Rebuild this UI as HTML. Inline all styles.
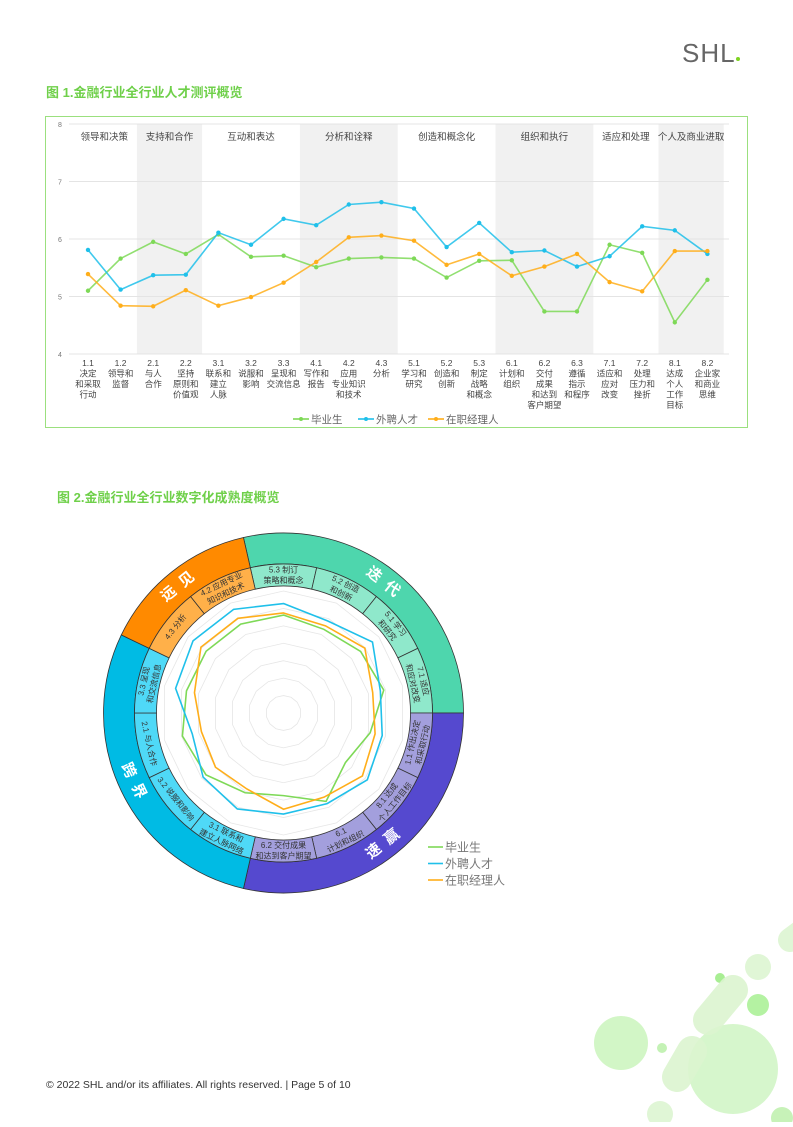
<!DOCTYPE html>
<html><head><meta charset="utf-8">
<style>
html,body{margin:0;padding:0;background:#fff;}
body{width:793px;height:1122px;overflow:hidden;font-family:"Liberation Sans","Noto Sans CJK SC",sans-serif;}
svg text{font-family:"Liberation Sans","Noto Sans CJK SC",sans-serif;}
</style></head>
<body>
<svg id="page" width="793" height="1122" viewBox="0 0 793 1122" xmlns="http://www.w3.org/2000/svg">
  <g>
    <circle cx="621" cy="1043" r="27" fill="#cdf5c0" opacity="0.9"/>
    <circle cx="733" cy="1069" r="45" fill="#d2f5c6" opacity="0.9"/>
    <circle cx="758" cy="1005" r="11" fill="#b4f2a2"/>
    <circle cx="720" cy="978" r="5" fill="#a8ee93"/>
    <circle cx="662" cy="1048" r="5" fill="#c4f2b5"/>
    <circle cx="758" cy="967" r="13" fill="#e0f6d6"/>
    <circle cx="660" cy="1114" r="13" fill="#e0f6d6"/>
    <circle cx="782" cy="1118" r="11" fill="#c7f2b8"/>
    <line x1="708" y1="1020" x2="733" y2="990" stroke="#dcf5d0" stroke-width="30" stroke-linecap="round" opacity="0.9"/>
    <line x1="677" y1="1077" x2="692" y2="1051" stroke="#dcf5d0" stroke-width="30" stroke-linecap="round" opacity="0.9"/>
    <line x1="790" y1="940" x2="810" y2="925" stroke="#e0f6d6" stroke-width="24" stroke-linecap="round"/>
  </g>
  <g>
    <text x="682" y="62" font-size="26" fill="#666" letter-spacing="1">SHL</text>
    <circle cx="738" cy="59" r="2" fill="#7ed321"/>
  </g>
  <text x="46" y="97" font-size="13" font-weight="bold" fill="#6fd04a">图 1.金融行业全行业人才测评概览</text>
  <rect x="45.5" y="116.5" width="702" height="311" fill="none" stroke="#9be07e" stroke-width="1"/>
  <g id="c1"></g>
  <text x="57" y="502" font-size="13" font-weight="bold" fill="#6fd04a">图 2.金融行业全行业数字化成熟度概览</text>
  <g id="c2"></g>
  <text x="46" y="1088" font-size="10.5" fill="#333">© 2022 SHL and/or its affiliates. All rights reserved. | Page 5 of 10</text>
</svg>
<script>
const categories=["1.1","1.2","2.1","2.2","3.1","3.2","3.3","4.1","4.2","4.3","5.1","5.2","5.3","6.1","6.2","6.3","7.1","7.2","8.1","8.2"];
const catNames=[["决定","和采取","行动"],["领导和","监督"],["与人","合作"],["坚持","原则和","价值观"],["联系和","建立","人脉"],["说服和","影响"],["呈现和","交流信息"],["写作和","报告"],["应用","专业知识","和技术"],["分析"],["学习和","研究"],["创造和","创新"],["制定","战略","和概念"],["计划和","组织"],["交付","成果","和达到","客户期望"],["遵循","指示","和程序"],["适应和","应对","改变"],["处理","压力和","挫折"],["达成","个人","工作","目标"],["企业家","和商业","思维"]];
const graduates=[5.10,5.66,5.95,5.74,6.08,5.69,5.71,5.51,5.66,5.68,5.66,5.33,5.62,5.63,4.74,4.74,5.90,5.76,4.55,5.29];
const external=[5.81,5.12,5.37,5.38,6.11,5.90,6.35,6.24,6.60,6.64,6.53,5.86,6.28,5.77,5.80,5.52,5.70,6.22,6.15,5.74];
const managers=[5.39,4.84,4.83,5.11,4.84,4.99,5.24,5.60,6.03,6.06,5.97,5.55,5.74,5.36,5.52,5.74,5.25,5.09,5.79,5.79];
const groupNames=["领导和决策","支持和合作","互动和表达","分析和诠释","创造和概念化","组织和执行","适应和处理","个人及商业进取"];
const groupStart=[0,2,4,7,10,13,16,18];
const groupEnd=[1,3,6,9,12,15,17,19];
const yTicks=[4,5,6,7,8];
const seriesNames=["毕业生","外聘人才","在职经理人"];
const seriesColors=["#7ed957","#1fc0ea","#ffae1a"];

const NS="http://www.w3.org/2000/svg";
function mk(tag,attrs,parent){const e=document.createElementNS(NS,tag);for(const k in attrs)e.setAttribute(k,attrs[k]);parent.appendChild(e);return e;}
const c1=document.getElementById('c1');
const X=i=>88+i*32.6;
const Y=v=>354-(v-4)*57.5;
// bands
groupNames.forEach((g,gi)=>{
  const x0=X(groupStart[gi])-16.3,x1=X(groupEnd[gi])+16.3;
  if(gi%2===1){const b=mk('rect',{x:x0,y:Y(8),width:x1-x0,height:Y(4)-Y(8),fill:'#f1f1f1'},c1);
  
  }
  const t=mk('text',{x:(x0+x1)/2,y:140,'font-size':9.5,'text-anchor':'middle',fill:'#444'},c1);
  t.textContent=g;
  
  
});
yTicks.forEach(v=>{
  const l=mk('line',{x1:69,x2:729,y1:Y(v),y2:Y(v),stroke:'#e4e4e4','stroke-width':1},c1);
  
  
  const t=mk('text',{x:60,y:Y(v)+3,'font-size':7,fill:'#777','text-anchor':'middle'},c1);
  t.textContent=v;
  
  
});
categories.forEach((c,i)=>{
  const t=mk('text',{x:X(i),y:366,'font-size':8.5,'text-anchor':'middle',fill:'#444'},c1);
  
  
  [c].concat(catNames[i]).forEach((s,k)=>{const ts=mk('tspan',{x:X(i),dy:k===0?0:10.5},t);ts.textContent=s;});
});
[graduates,external,managers].forEach((arr,si)=>{
  const g=mk('g',{},c1);
  
  
  const p=mk('polyline',{points:arr.map((v,i)=>X(i)+','+Y(v)).join(' '),fill:'none',stroke:seriesColors[si],'stroke-width':1.6,'stroke-opacity':0.85},g);
  
  
  arr.forEach((v,i)=>{const d=mk('circle',{cx:X(i),cy:Y(v),r:2.2,fill:seriesColors[si]},g);
  
  });
});
const legX=[293,358,428];
seriesNames.forEach((s,si)=>{
  const g=mk('g',{},c1);
  
  
  mk('line',{x1:legX[si],x2:legX[si]+16,y1:419,y2:419,stroke:seriesColors[si],'stroke-width':1.6},g);
  mk('circle',{cx:legX[si]+8,cy:419,r:2,fill:seriesColors[si]},g);
  const t=mk('text',{x:legX[si]+18,y:423,'font-size':10.5,fill:'#666'},g);t.textContent=s;
});

// Radar
const radarCats=["5.3","5.2","5.1","7.1","1.1","8.1","6.1","6.2","3.1","3.2","2.1","3.3","4.3","4.2"];
const radarLabels=[["5.3 制订","策略和概念"],["5.2 创造","和创新"],["5.1 学习","和研究"],["7.1 适应","和应对改变"],["1.1 作出决定","和采取行动"],["8.1 达成","个人工作目标"],["6.1","计划和组织"],["6.2 交付成果","和达到客户期望"],["3.1 联系和","建立人脉网络"],["3.2 说服和影响"],["2.1 与人合作"],["3.3 呈现","和交流信息"],["4.3 分析"],["4.2 应用专业","知识和技术"]];
const radarGraduates=[5.62,5.33,5.66,5.90,5.10,4.55,5.63,4.74,5.08,5.69,5.95,5.71,5.68,5.66];
const radarExternal=[6.28,5.86,6.53,5.70,5.81,6.15,5.77,5.80,6.11,5.90,5.37,6.35,6.64,6.60];
const radarManagers=[5.74,5.55,5.97,5.25,5.39,5.79,5.36,5.52,4.84,4.99,4.83,5.24,6.06,6.03];
const groups2=["迭代","速赢","跨界","远见"];
const groupSize2=[4,4,4,2];
const outerColors=["#4ed6ad","#5549cf","#00bbe4","#ff8a00"];
const innerColors=["#8fe8cb","#a39fdd","#4fd9f7","#ffb049"];
const rMax=7;
const c2=document.getElementById('c2');
const CX=283.5,CY=713;
const step=360/14, start=-12.86;
const R=v=>v/rMax*122;
function pt(r,deg){const a=deg*Math.PI/180;return [CX+r*Math.sin(a),CY-r*Math.cos(a)];}
function arc(r0,r1,a0,a1){const p1=pt(r1,a0),p2=pt(r1,a1),p3=pt(r0,a1),p4=pt(r0,a0);const lg=(a1-a0)>180?1:0;
return `M${p1} A${r1},${r1} 0 ${lg} 1 ${p2} L${p3} A${r0},${r0} 0 ${lg} 0 ${p4}Z`;}
let idx=0;
groups2.forEach((g,gi)=>{
  const a0=start+idx*step,a1=a0+groupSize2[gi]*step;
  const o=mk('path',{d:arc(149,180,a0,a1),fill:outerColors[gi],stroke:'#333','stroke-width':0.8},c2);
  
  
  for(let k=0;k<groupSize2[gi];k++){
    const s0=a0+k*step,s1=s0+step,j=idx+k;
    const p=mk('path',{d:arc(127,149,s0,s1),fill:innerColors[gi],stroke:'#333','stroke-width':0.8},c2);
    
    
    const mid=(s0+s1)/2;let rot=mid;if(mid>90&&mid<270)rot=mid-180;else if(mid>=270)rot=mid-360;
    const flip=(mid>90&&mid<270);
    const lines=radarLabels[j];
    lines.forEach((s,li)=>{
      let rr=lines.length===1?138:(flip?(li===0?132.5:143):(li===0?143:132.5));
      const q=pt(rr,mid);
      const t=mk('text',{x:q[0],y:q[1],'font-size':8,fill:'#333','text-anchor':'middle','dominant-baseline':'central',transform:`rotate(${rot} ${q[0]} ${q[1]})`},c2);
      t.textContent=s;
      
      
    });
  }
  const mid=(a0+a1)/2;let rot=mid;if(mid>90&&mid<270)rot=mid-180;else if(mid>=270)rot=mid-360;
  const q=pt(164.5,mid);
  const t=mk('text',{x:q[0],y:q[1],'font-size':15,'font-weight':'bold',fill:'#fff','text-anchor':'middle','dominant-baseline':'central','letter-spacing':8,transform:`rotate(${rot} ${q[0]} ${q[1]})`},c2);
  t.textContent=g;
  
  
  idx+=groupSize2[gi];
});
for(let v=1;v<=rMax;v++){
  const pts=radarCats.map((c,i)=>pt(R(v),i*step).join(',')).join(' ');
  const p=mk('polygon',{points:pts,fill:'none',stroke:'#e6e6e6','stroke-width':0.8},c2);
  
  
}
[radarGraduates,radarExternal,radarManagers].forEach((arr,si)=>{
  const p=mk('polygon',{points:arr.map((v,i)=>pt(R(v),i*step).join(',')).join(' '),fill:'none',stroke:seriesColors[si],'stroke-width':1.6},c2);
  
  
});
seriesNames.forEach((s,si)=>{
  const g=mk('g',{},c2);
  
  
  const y=847+si*16.5;
  mk('line',{x1:428,x2:443,y1:y,y2:y,stroke:seriesColors[si],'stroke-width':1.6},g);
  const t=mk('text',{x:445,y:y+4.5,'font-size':12,fill:'#777'},g);t.textContent=s;
});
</script>
</body></html>
